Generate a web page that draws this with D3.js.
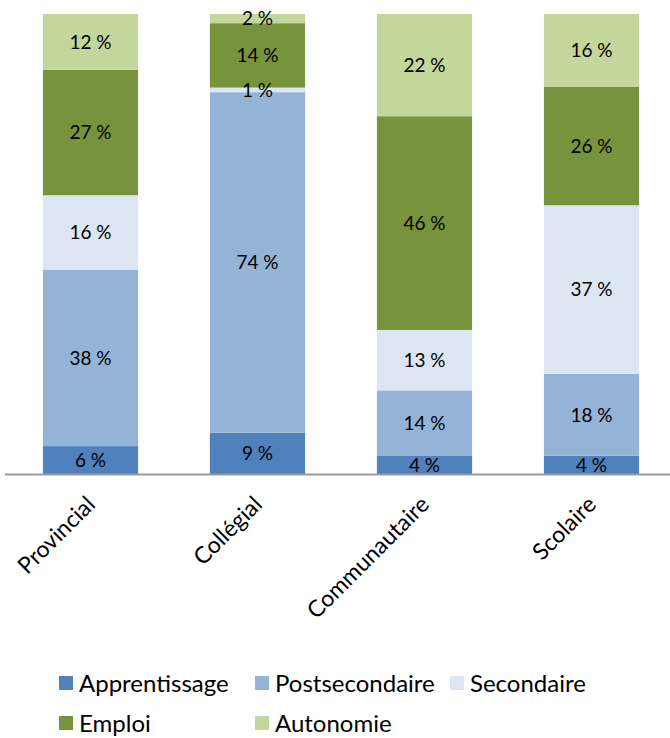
<!DOCTYPE html>
<html>
<head>
<meta charset="utf-8">
<script src="https://cdn.jsdelivr.net/npm/d3@7"></script>
<style>
  body { margin: 0; background: #fff; }
  text { font-family: Lato, "Open Sans", sans-serif; }
</style>
</head>
<body>
<script>
const w = 670;
const h = 738;

const categories = ["Provincial", "Collégial", "Communautaire", "Scolaire"];
const seriesNames = ["Apprentissage", "Postsecondaire", "Secondaire", "Emploi", "Autonomie"];
const apprentissage = [6, 9, 4, 4];
const postsecondaire = [38, 74, 14, 18];
const secondaire = [16, 1, 13, 37];
const emploi = [27, 14, 46, 26];
const autonomie = [12, 2, 22, 16];
const colors = ["#4F81BD", "#95B3D7", "#DCE6F2", "#77933C", "#C3D69B"];

const seriesValues = [apprentissage, postsecondaire, secondaire, emploi, autonomie];
const rows = categories.map((c, i) => {
  const r = { cat: c };
  seriesNames.forEach((s, j) => (r[s] = seriesValues[j][i]));
  return r;
});

const svg = d3.select("body").append("svg").attr("width", w).attr("height", h);

const x = d3.scaleBand()
  .domain(categories)
  .range([7, 675])
  .paddingInner(0.43)
  .paddingOuter(0.215);

const y = d3.scaleLinear().domain([0, 1]).range([474, 14]);

// 100 % stacked, like the original
const stacked = d3.stack().keys(seriesNames).offset(d3.stackOffsetExpand)(rows);

const groups = svg.selectAll("g.series")
  .data(stacked)
  .enter()
  .append("g")
  .attr("class", "series")
  .attr("fill", (d, i) => colors[i]);

groups.selectAll("rect")
  .data((d) => d)
  .enter()
  .append("rect")
  .attr("x", (d) => x(d.data.cat))
  .attr("y", (d) => y(d[1]))
  .attr("width", x.bandwidth())
  .attr("height", (d) => y(d[0]) - y(d[1]));

// value labels
stacked.forEach((s) => {
  svg.append("g")
    .selectAll("text")
    .data(s)
    .enter()
    .append("text")
    .attr("x", (d) => x(d.data.cat) + x.bandwidth() / 2)
    .attr("y", (d) => (y(d[0]) + y(d[1])) / 2)
    .attr("dy", "0.36em")
    .attr("text-anchor", "middle")
    .attr("font-size", 19)
    .attr("fill", "#000")
    .text((d) => d.data[s.key] + " %");
});

// axis
const xAxis = d3.axisBottom(x).tickSize(0).tickPadding(0);
const axisG = svg.append("g")
  .attr("transform", "translate(0, 474)")
  .call(xAxis);
axisG.select(".domain")
  .attr("d", "M5,0.5H670")
  .attr("stroke", "#9a9a9a")
  .attr("stroke-width", 2);
axisG.selectAll(".tick text")
  .attr("font-size", 23)
  .attr("fill", "#000")
  .attr("text-anchor", "end")
  .attr("dy", null)
  .attr("y", null)
  .attr("transform", "translate(6, 32) rotate(-45)");

// legend
const legendItems = [
  { name: seriesNames[0], x: 59, y: 683 },
  { name: seriesNames[1], x: 255, y: 683 },
  { name: seriesNames[2], x: 450, y: 683 },
  { name: seriesNames[3], x: 59, y: 723 },
  { name: seriesNames[4], x: 255, y: 723 }
];
const legend = svg.append("g")
  .selectAll("g")
  .data(legendItems)
  .enter()
  .append("g")
  .attr("transform", (d) => "translate(" + d.x + "," + d.y + ")");
legend.append("rect")
  .attr("x", 0)
  .attr("y", -7)
  .attr("width", 14)
  .attr("height", 14)
  .attr("fill", (d, i) => colors[i]);
legend.append("text")
  .attr("x", 20)
  .attr("dy", "0.36em")
  .attr("font-size", 24)
  .attr("fill", "#000")
  .text((d) => d.name);
</script>
</body>
</html>
